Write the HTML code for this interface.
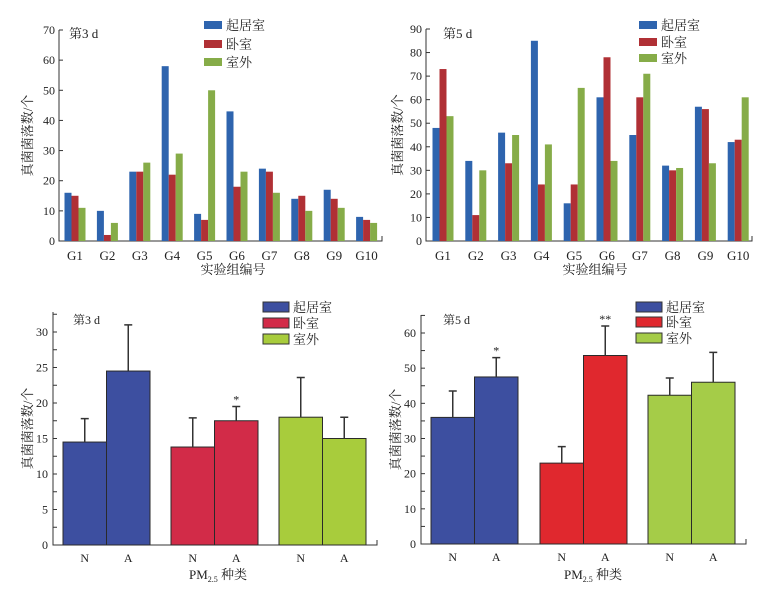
<!DOCTYPE html>
<html><head><meta charset="utf-8"><style>
html,body{margin:0;padding:0;background:#fff;}
svg{display:block;font-family:"Liberation Serif","Noto Serif CJK SC","Noto Sans CJK SC",serif;}
</style></head><body>
<svg id="chart" width="775" height="600" viewBox="0 0 775 600" xmlns="http://www.w3.org/2000/svg"></svg>
<script>
const groups = ["G1","G2","G3","G4","G5","G6","G7","G8","G9","G10"];
const seriesNames = ["起居室","卧室","室外"];
const d3Living = [16,10,23,58,9,43,24,14,17,8];
const d3Bed = [15,2,23,22,7,18,23,15,14,7];
const d3Out = [11,6,26,29,50,23,16,10,11,6];
const d5Living = [48,34,46,85,16,61,45,32,57,42];
const d5Bed = [73,11,33,24,24,78,61,30,56,43];
const d5Out = [53,30,45,41,65,34,71,31,33,61];
const ticksTop3 = [0,10,20,30,40,50,60,70];
const ticksTop5 = [0,10,20,30,40,50,60,70,80,90];
const pmTypes = ["N","A"];
const b3Mean = [14.5,24.5,13.8,17.5,18,15];
const b3Err = [17.8,31,17.9,19.5,23.6,18];
const b3Sig = ["","","","*","",""];
const b5Mean = [36,47.5,23,53.6,42.3,46];
const b5Err = [43.5,53,27.7,62,47.2,54.5];
const b5Sig = ["","*","","**","",""];
const ticksBot3 = [0,5,10,15,20,25,30];
const ticksBot5 = [0,10,20,30,40,50,60];

const NS="http://www.w3.org/2000/svg";
const svg=document.getElementById('chart');
function mk(tag,attrs,parent,text){const e=document.createElementNS(NS,tag);for(const k in attrs)e.setAttribute(k,attrs[k]);if(text!==undefined)e.textContent=text;(parent||svg).appendChild(e);return e;}

function topChart(cfg){
  const g=mk('g',{});
  
  
  const y=v=>cfg.y0-(v-0)*(cfg.y0-cfg.yTop)/cfg.yMax;
  const cx=i=>cfg.c0+i*cfg.step;
  const ax=mk('path',{d:`M${cfg.ax},${y(cfg.yMax)} V${cfg.y0} H${cfg.axEnd} v-5`,stroke:'#333',fill:'none','stroke-width':1},g);
  
  
  cfg.ticks.forEach(t=>{
    mk('line',{x1:cfg.ax,x2:cfg.ax+4,y1:y(t),y2:y(t),stroke:'#333'},g);
    const tl=mk('text',{x:cfg.ax-4,y:y(t)+4,'text-anchor':'end','font-size':12,fill:'#222'},g,t);
    
    
  });
  const cols=cfg.colors;
  cfg.series.forEach((s,si)=>{
    s.forEach((v,i)=>{
      const r=mk('rect',{x:cx(i)-10.5+si*7,y:y(v),width:7,height:cfg.y0-y(v),fill:cols[si]},g);
      
      
    });
  });
  groups.forEach((gn,i)=>{
    const t=mk('text',{x:cx(i),y:cfg.y0+19,'text-anchor':'middle','font-size':13,fill:'#222'},g,gn);
    
    
  });
  const yt=mk('text',{x:0,y:0,transform:`translate(${cfg.ylx},${(cfg.y0+y(cfg.yMax))/2}) rotate(-90)`,'text-anchor':'middle','font-size':13,fill:'#222'},g,'真菌菌落数/个');
  
  
  const xt=mk('text',{x:cfg.xtx,y:274,'text-anchor':'middle','font-size':13,fill:'#222'},g,'实验组编号');
  
  
  const dl=mk('text',{x:cfg.dx,y:38,'font-size':13,fill:'#222'},g,cfg.day);
  
  
  seriesNames.forEach((n,i)=>{
    const ly=cfg.legY[i];
    const lr=mk('rect',{x:cfg.legX,y:ly-4,width:18,height:8,fill:cols[i]},g);
    
    
    const lt=mk('text',{x:cfg.legX+22,y:ly+5,'font-size':13,fill:'#222'},g,n);
    
    
  });
}

function botChart(cfg){
  const g=mk('g',{});
  
  
  const y=v=>cfg.y0-v*cfg.ppu;
  const ax=mk('path',{d:`M${cfg.ax},${cfg.axTop} V${cfg.y0} H${cfg.axEnd} v-5`,stroke:'#333',fill:'none'},g);
  
  
  for(let v=0;y(v)>=cfg.axTop;v+=cfg.minor){mk('line',{x1:cfg.ax,x2:cfg.ax+4,y1:y(v),y2:y(v),stroke:'#333'},g);}
  cfg.ticks.forEach(t=>{
    const tl=mk('text',{x:cfg.ax-5,y:y(t)+4,'text-anchor':'end','font-size':12,fill:'#222'},g,t);
    
    
  });
  cfg.mean.forEach((v,i)=>{
    const grp=Math.floor(i/2),k=i%2;
    const x=cfg.gx[grp]+k*cfg.bw;
    const r=mk('rect',{x:x,y:y(v),width:cfg.bw,height:cfg.y0-y(v),fill:cfg.colors[grp],stroke:'#2a2a2a','stroke-width':1},g);
    
    
    const c=x+cfg.bw/2;
    const eb=mk('path',{d:`M${c},${y(v)} V${y(cfg.err[i])} M${c-4},${y(cfg.err[i])} H${c+4}`,stroke:'#333','stroke-width':1.5,fill:'none'},g);
    
    
    if(cfg.sig[i]){
      const s=mk('text',{x:c,y:y(cfg.err[i])-3,'text-anchor':'middle','font-size':12,fill:'#222'},g,cfg.sig[i]);
      
      
    }
    const tl=mk('text',{x:c,y:cfg.y0+17,'text-anchor':'middle','font-size':12,fill:'#222'},g,pmTypes[k]);
    
    
  });
  const yt=mk('text',{x:0,y:0,transform:`translate(${cfg.ylx},${(cfg.y0+cfg.axTop)/2}) rotate(-90)`,'text-anchor':'middle','font-size':13,fill:'#222'},g,'真菌菌落数/个');
  
  
  const xt=mk('text',{x:cfg.xtx,y:579,'text-anchor':'middle','font-size':13,fill:'#222'},g);
  
  
  mk('tspan',{},xt,'PM');mk('tspan',{'font-size':8,dy:3},xt,'2.5');mk('tspan',{dy:-3},xt,' 种类');
  const dl=mk('text',{x:cfg.dx,y:324,'font-size':12,fill:'#222'},g,cfg.day);
  
  
  seriesNames.forEach((n,i)=>{
    const ly=cfg.legY[i];
    const lr=mk('rect',{x:cfg.legX,y:ly-5,width:26,height:10,fill:cfg.colors[i],stroke:'#333'},g);
    
    
    const lt=mk('text',{x:cfg.legX+30,y:ly+5,'font-size':13,fill:'#222'},g,n);
    
    
  });
}

topChart({name:'chart-day3-groups',ax:59,axEnd:382,y0:241,yTop:30,yMax:70,ticks:ticksTop3,c0:75,step:32.4,
  series:[d3Living,d3Bed,d3Out],colors:['#2e64ae','#b03035','#86ac48'],ylx:32,xtx:233,dx:69,day:'第3 d',legX:204,legY:[25,44,62]});
topChart({name:'chart-day5-groups',ax:426,axEnd:752,y0:241,yTop:29,yMax:90,ticks:ticksTop5,c0:443,step:32.8,
  series:[d5Living,d5Bed,d5Out],colors:['#2e64ae','#b03035','#86ac48'],ylx:402,xtx:595,dx:443,day:'第5 d',legX:639,legY:[25,42,58]});
botChart({name:'chart-day3-pm',ax:53,axEnd:377,axTop:312,y0:545,ppu:213/30,minor:2.5,ticks:ticksBot3,
  mean:b3Mean,err:b3Err,sig:b3Sig,gx:[63,171,279],bw:43.5,colors:['#3d4fa0','#d22b48','#a8cc3c'],ylx:32,xtx:218,dx:73,day:'第3 d',legX:263,legY:[307,323,339]});
botChart({name:'chart-day5-pm',ax:421,axEnd:746,axTop:315,y0:544,ppu:211/60,minor:5,ticks:ticksBot5,
  mean:b5Mean,err:b5Err,sig:b5Sig,gx:[431,540,648],bw:43.5,colors:['#3d4fa0','#e0282e','#a5cc48'],ylx:400,xtx:593,dx:443,day:'第5 d',legX:636,legY:[307,322,338]});
</script>
</body></html>
